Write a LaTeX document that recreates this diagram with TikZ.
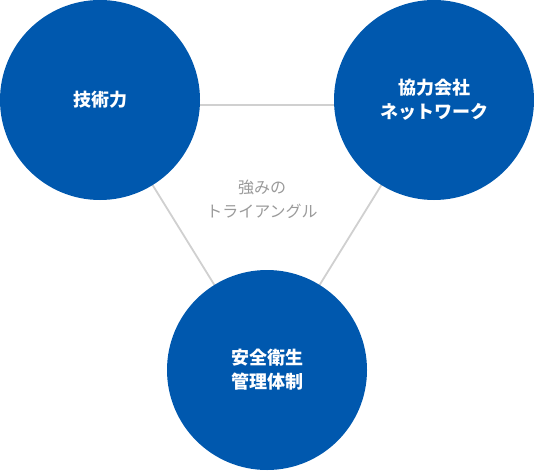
\documentclass[tikz,border=0pt]{standalone}
\usepackage{fontspec}
\newfontfamily\cjk{Noto Sans CJK JP}
\definecolor{circblue}{HTML}{0058AE}
\definecolor{linegray}{HTML}{D0D0D0}
\definecolor{labelgray}{HTML}{9A9A9A}
\begin{document}
\begin{tikzpicture}[x=1pt,y=-1pt,
  circ/.style={circle,fill=circblue,minimum size=200pt,inner sep=0pt,text=white,align=center,font=\cjk\bfseries\fontsize{18}{24}\selectfont},
  conn/.style={draw=linegray,line width=1.8pt},
  lbl/.style={text=labelgray,align=center,font=\cjk\fontsize{16}{24}\selectfont}]
\useasboundingbox (0,0) rectangle (534,470);
\coordinate (c1) at (100,100);
\coordinate (c2) at (434,100);
\coordinate (c3) at (267,370);
\draw[conn] ([yshift=-5pt]c1) -- ([yshift=-5pt]c2);
\draw[conn] (c1) -- (c3);
\draw[conn] (c2) -- (c3);
\node[circ] (a) at (c1) {技術力};
\node[circ] (b) at (c2) {協力会社\\ネットワーク};
\node[circ] (c) at (c3) {安全衛生\\管理体制};
\node[lbl] (t) at (262,199) {強みの\\トライアングル};
\end{tikzpicture}
\end{document}
